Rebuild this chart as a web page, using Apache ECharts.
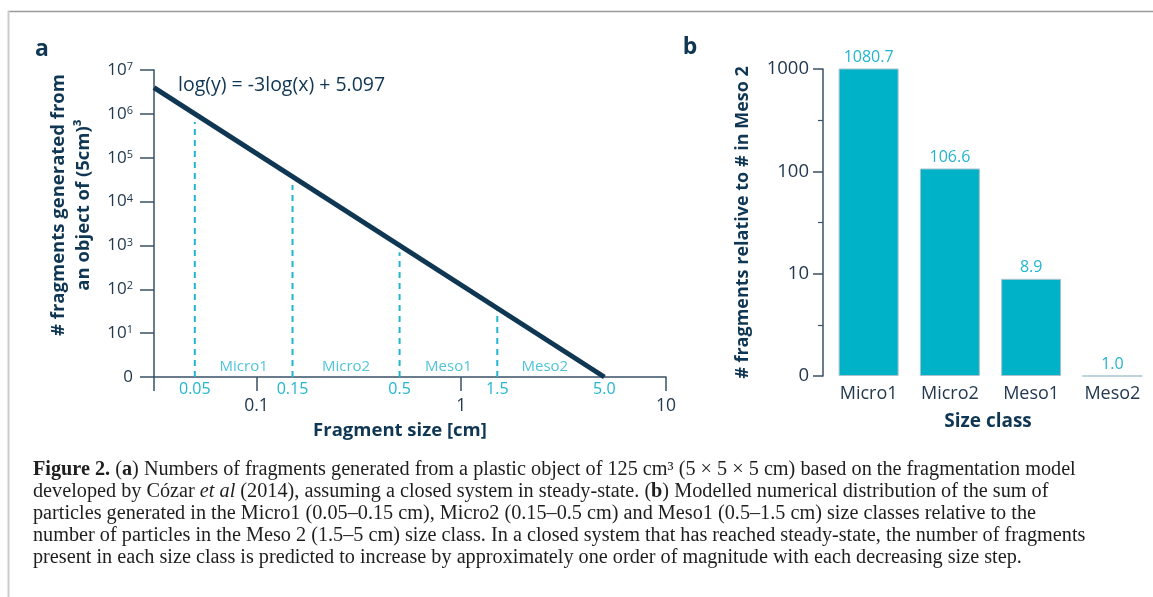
<!DOCTYPE html>
<html><head><meta charset="utf-8">
<script src="https://cdn.jsdelivr.net/npm/echarts@6/dist/echarts.min.js"></script>
<style>html,body{margin:0;padding:0;background:#fff}#c{width:1153px;height:597px}</style>
</head><body><div id="c"></div><script>
// ---------- data ----------
const sizeBounds = [0.05, 0.15, 0.5, 1.5, 5];
const sizeBoundLabels = ['0.05', '0.15', '0.5', '1.5', '5.0'];
const sizeClasses = ['Micro1', 'Micro2', 'Meso1', 'Meso2'];
const fitLineX = [0.0316, 5];
const fitLineY = [3.95e6, 1];
const dashTopY = [6.5e5, 2.4e4, 700, 34];
const xTickValues = [0.1, 1, 10];
const yTickValues = [1, 1e1, 1e2, 1e3, 1e4, 1e5, 1e6, 1e7];
const relValues = [1080.7, 106.6, 8.9, 1.0];
const relTicks = [1, 10, 100, 1000];
const relMinorTicks = [3.162, 31.62, 316.2];
const equationText = 'log(y) = -3log(x) + 5.097';

// ---------- style ----------
const FONT = 'Open Sans';
const NAVY = '#0f3653';
const TXT = '#22394f';
const AX = '#3a5166';
const CYAN = '#22b5d0';
const BAR = '#00b2c8';
const SERIF = 'Liberation Serif';
const CAP = '#1e1e1e';

const chart = echarts.init(document.getElementById('c'), null, {renderer: 'canvas'});

function nearestIdx(arr, v) {
  let b = 0;
  for (let i = 1; i < arr.length; i++) if (Math.abs(Math.log(arr[i] / v)) < Math.abs(Math.log(arr[b] / v))) b = i;
  return b;
}

const captionLines = [
  '{b|Figure 2.} ({b|a}) Numbers of fragments generated from a plastic object of 125 cm³ (5 × 5 × 5 cm) based on the fragmentation model',
  'developed by Cózar {i|et al} ({l|2014}), assuming a closed system in steady-state. ({b|b}) Modelled numerical distribution of the sum of',
  'particles generated in the Micro1 (0.05–0.15 cm), Micro2 (0.15–0.5 cm) and Meso1 (0.5–1.5 cm) size classes relative to the',
  'number of particles in the Meso 2 (1.5–5 cm) size class. In a closed system that has reached steady-state, the number of fragments',
  'present in each size class is predicted to increase by approximately one order of magnitude with each decreasing size step.'
];
// fit caption font size so the first line spans the same width as in the figure
const mctx = document.createElement('canvas').getContext('2d');
mctx.font = "20px 'Liberation Serif'";
const plain1 = captionLines[0].replace(/\{[a-z]+\|([^}]*)\}/g, '$1');
let CAPSIZE = 20 * 1038 / mctx.measureText(plain1).width;
if (!isFinite(CAPSIZE) || CAPSIZE < 14 || CAPSIZE > 24) CAPSIZE = 20;

const capBase = {fontFamily: SERIF, fontSize: CAPSIZE, fill: CAP};
const capRich = {
  b: {fontFamily: SERIF, fontSize: CAPSIZE, fontWeight: 'bold', color: CAP},
  i: {fontFamily: SERIF, fontSize: CAPSIZE, fontStyle: 'italic', color: CAP},
  l: {fontFamily: SERIF, fontSize: CAPSIZE, color: '#2a7dbf'}
};

const graphics = [
  {type: 'line', shape: {x1: 8, y1: 11.5, x2: 1153, y2: 11.5}, style: {stroke: '#9a9a9a', lineWidth: 1.5}, silent: true},
  {type: 'line', shape: {x1: 8.5, y1: 11, x2: 8.5, y2: 597}, style: {stroke: '#cccccc', lineWidth: 2}, silent: true},
  {type: 'text', style: {text: 'a', x: 42, y: 49, fontFamily: FONT, fontSize: 23, fontWeight: 'bold', fill: NAVY, align: 'center', verticalAlign: 'middle'}},
  {type: 'text', style: {text: 'b', x: 690, y: 47, fontFamily: FONT, fontSize: 23, fontWeight: 'bold', fill: NAVY, align: 'center', verticalAlign: 'middle'}},
  {type: 'text', style: {text: equationText, x: 178, y: 85, fontFamily: FONT, fontSize: 19.5, fill: NAVY, align: 'left', verticalAlign: 'middle'}},
  {type: 'text', x: 71, y: 205, rotation: Math.PI / 2,
    style: {text: '# fragments generated from\nan object of (5cm)³', x: 0, y: 0, fontFamily: FONT, fontSize: 18.5, fontWeight: 'bold', lineHeight: 25, fill: NAVY, align: 'center', verticalAlign: 'middle'}},
  {type: 'text', style: {text: 'Fragment size [cm]', x: 400, y: 431, fontFamily: FONT, fontSize: 18.5, fontWeight: 'bold', fill: NAVY, align: 'center', verticalAlign: 'middle'}},
  {type: 'text', style: {text: 'Size class', x: 988, y: 422, fontFamily: FONT, fontSize: 19, fontWeight: 'bold', fill: NAVY, align: 'center', verticalAlign: 'middle'}}
];
captionLines.forEach((t, i) => {
  graphics.push({type: 'text', style: Object.assign({text: t, x: 33, y: 470 + i * 22, align: 'left', verticalAlign: 'middle', rich: capRich}, capBase)});
});

const series = [
  {type: 'line', xAxisIndex: 0, yAxisIndex: 0, data: fitLineX.map((x, i) => [x, fitLineY[i]]),
    symbol: 'none', lineStyle: {color: NAVY, width: 5}, z: 5, silent: true, clip: false}
];
dashTopY.forEach((t, i) => {
  series.push({type: 'line', xAxisIndex: 0, yAxisIndex: 0, data: [[sizeBounds[i], 1], [sizeBounds[i], t]],
    symbol: 'none', lineStyle: {color: CYAN, width: 2, type: [6, 5]}, z: 3, silent: true});
});
series.push({
  type: 'scatter', xAxisIndex: 0, yAxisIndex: 0, symbolSize: 1, itemStyle: {color: 'rgba(0,0,0,0)'}, silent: true,
  data: sizeClasses.map((n, i) => ({name: n, value: [Math.sqrt(sizeBounds[i] * sizeBounds[i + 1]), 1],
    label: i === 3 ? {offset: [-6, 0]} : undefined})),
  label: {show: true, position: 'top', distance: 2, formatter: '{b}', color: CYAN, fontSize: 15, fontFamily: FONT}
});
series.push({
  type: 'bar', xAxisIndex: 2, yAxisIndex: 1, data: relValues, barWidth: 60,
  itemStyle: {color: BAR, borderColor: '#a9c3cd', borderWidth: 1},
  label: {show: true, position: 'top', distance: 3, color: CYAN, fontSize: 16, fontFamily: FONT,
    formatter: p => p.value.toFixed(1)},
  silent: true
});

const option = {
  animation: false,
  backgroundColor: '#ffffff',
  textStyle: {fontFamily: FONT},
  grid: [
    {left: 154, top: 70, width: 512, height: 307},
    {left: 828, top: 69, width: 325, height: 307}
  ],
  xAxis: [
    {gridIndex: 0, type: 'log', min: 0.0316, max: 10, position: 'bottom',
      axisLine: {show: true, onZero: false, lineStyle: {color: AX, width: 1.5}},
      axisTick: {show: true, customValues: [0.0316].concat(xTickValues), length: 14, lineStyle: {color: AX, width: 1.5}},
      axisLabel: {show: true, customValues: xTickValues, margin: 20, fontSize: 17.5, color: TXT, fontFamily: FONT,
        formatter: v => String(+(+v).toPrecision(3))},
      splitLine: {show: false}},
    {gridIndex: 0, type: 'log', min: 0.0316, max: 10, position: 'bottom',
      axisLine: {show: false}, axisTick: {show: false}, splitLine: {show: false},
      axisLabel: {show: true, customValues: sizeBounds.slice(), margin: 4, fontSize: 16, color: CYAN, fontFamily: FONT,
        formatter: v => sizeBoundLabels[nearestIdx(sizeBounds, +v)]}},
    {gridIndex: 1, type: 'category', data: sizeClasses, position: 'bottom',
      axisLine: {show: false}, axisTick: {show: false},
      axisLabel: {show: true, margin: 9, fontSize: 18, color: TXT, fontFamily: FONT}}
  ],
  yAxis: [
    {gridIndex: 0, type: 'log', min: 1, max: 1e7, position: 'left',
      axisLine: {show: true, onZero: false, lineStyle: {color: AX, width: 1.5}},
      axisTick: {show: true, customValues: yTickValues, length: 14, lineStyle: {color: AX, width: 1.5}},
      axisLabel: {show: true, customValues: yTickValues, margin: 21, fontSize: 17, color: TXT, fontFamily: FONT,
        formatter: v => { const e = Math.round(Math.log10(+v)); return e === 0 ? '0' : '10{s|' + e + '}'; },
        rich: {s: {fontSize: 11, color: TXT, fontFamily: FONT, verticalAlign: 'top', lineHeight: 17}}},
      splitLine: {show: false}},
    {gridIndex: 1, type: 'log', min: 1, max: 1000, position: 'left', offset: 5,
      axisLine: {show: true, onZero: false, lineStyle: {color: AX, width: 1.5}},
      axisTick: {show: true, customValues: relTicks, length: 10, lineStyle: {color: AX, width: 1.5}},
      axisLabel: {show: true, customValues: relTicks, margin: 14, fontSize: 18.5, color: TXT, fontFamily: FONT,
        formatter: v => { const n = Math.round(+v); return n === 1 ? '0' : String(n); }},
      splitLine: {show: false},
      name: '# fragments relative to # in Meso 2', nameLocation: 'middle', nameGap: 71,
      nameTextStyle: {fontSize: 18, fontWeight: 'bold', color: NAVY, fontFamily: FONT}},
    {gridIndex: 1, type: 'log', min: 1, max: 1000, position: 'left', offset: 5,
      axisLine: {show: false},
      axisTick: {show: true, customValues: relMinorTicks, length: 5, lineStyle: {color: AX, width: 1.2}},
      axisLabel: {show: false}, splitLine: {show: false}}
  ],
  series: series,
  graphic: {elements: graphics}
};
chart.setOption(option);
</script></body></html>
